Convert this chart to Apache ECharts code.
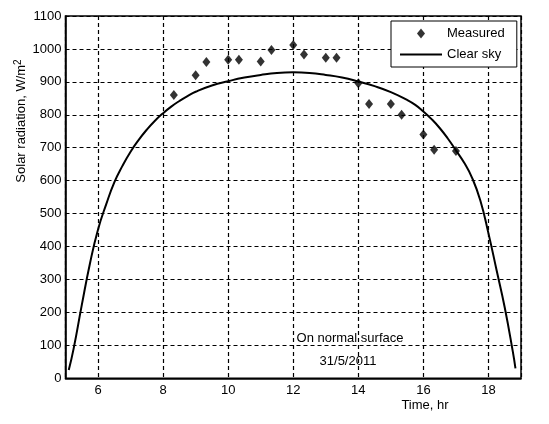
<!DOCTYPE html>
<html>
<head>
<meta charset="utf-8">
<script src="https://cdn.jsdelivr.net/npm/echarts@6/dist/echarts.min.js"></script>
<style>
html,body{margin:0;padding:0;background:#fff;}
#chart{width:549px;height:424px;}
</style>
</head>
<body>
<div id="chart"></div>
<script>
// Measured solar radiation (time in hours, W/m2)
var measuredTime = [8.33, 9.0, 9.33, 10.0, 10.33, 11.0, 11.33, 12.0, 12.33, 13.0, 13.33, 14.0, 14.33, 15.0, 15.33, 16.0, 16.33, 17.0];
var measuredValue = [860, 920, 960, 967, 967, 962, 997, 1012, 983, 973, 973, 896, 833, 833, 800, 740, 694, 690];

// Clear sky model curve
var clearTime = [5.10, 5.25, 5.5, 5.75, 6.0, 6.25, 6.5, 6.75, 7.0, 7.25, 7.5, 7.75, 8.0, 8.25, 8.5, 8.75, 9.0, 9.5, 10.0, 10.5, 11.0, 11.5, 12.0, 12.5, 13.0, 13.5, 14.0, 14.5, 15.0, 15.5, 15.75, 16.0, 16.25, 16.5, 16.75, 17.0, 17.25, 17.5, 17.75, 18.0, 18.25, 18.5, 18.75, 18.83];
var clearValue = [25, 90, 222, 348, 452, 528, 595, 645, 688, 724, 755, 782, 805, 825, 842, 857, 870, 889, 902, 913, 921, 927, 929, 927, 921, 913, 901, 887, 869, 845, 830, 810, 787, 760, 728, 692, 655, 608, 540, 440, 328, 215, 80, 30];

var seriesNames = ['Measured', 'Clear sky'];
var yAxisTitle = 'Solar radiation, W/m';
var xAxisTitle = 'Time, hr';
var noteLines = ['On normal surface', '31/5/2011'];

var FONT = 'Liberation Sans, Arial, Helvetica, sans-serif';

function zip(a, b) { return a.map(function (v, i) { return [v, b[i]]; }); }

var chart = echarts.init(document.getElementById('chart'), null, {renderer: 'canvas'});
chart.setOption({
  backgroundColor: '#fff',
  animation: false,
  textStyle: {fontFamily: FONT, color: '#000'},
  grid: {
    left: 65.5, right: 28, top: 16, bottom: 45.7,
    show: true, borderColor: '#000', borderWidth: 1.5, backgroundColor: 'transparent'
  },
  xAxis: {
    type: 'value', min: 5, max: 19, splitNumber: 7,
    axisLine: {show: true, onZero: false, lineStyle: {color: '#000', width: 1.5}},
    axisTick: {show: false},
    axisLabel: {color: '#000', fontSize: 13, fontFamily: FONT, margin: 6, showMinLabel: false, showMaxLabel: false,
      formatter: function (v) { return String(v); }},
    splitLine: {show: true, lineStyle: {color: '#000', width: 1.2, type: [4, 3]}}
  },
  yAxis: {
    type: 'value', min: 0, max: 1100, interval: 100,
    axisLine: {show: true, lineStyle: {color: '#000', width: 1.5}},
    axisTick: {show: false},
    axisLabel: {color: '#000', fontSize: 13, fontFamily: FONT, margin: 4,
      formatter: function (v) { return String(v); }},
    splitLine: {show: true, lineStyle: {color: '#000', width: 1.2, type: [4, 3]}}
  },
  legend: {
    orient: 'vertical',
    left: 391, top: 21,
    backgroundColor: '#fff',
    borderColor: '#000', borderWidth: 1,
    padding: [6, 12, 6, 9],
    itemWidth: 42, itemHeight: 10, itemGap: 8,
    textStyle: {color: '#000', fontSize: 13, fontFamily: FONT},
    data: [
      {name: seriesNames[0], icon: 'path://M0,-5L4,0L0,5L-4,0Z'},
      {name: seriesNames[1], icon: 'path://M0,0H42V2H0Z'}
    ],
    z: 10
  },
  series: [
    {
      name: seriesNames[0], type: 'scatter',
      data: zip(measuredTime, measuredValue),
      symbol: 'diamond', symbolSize: [8, 10],
      itemStyle: {color: '#000'}, z: 5
    },
    {
      name: seriesNames[1], type: 'line',
      data: zip(clearTime, clearValue),
      smooth: 0.5, symbol: 'none',
      lineStyle: {color: '#000', width: 2},
      itemStyle: {color: '#000'}, z: 4
    }
  ],
  graphic: [
    {
      type: 'text', x: 21, y: 121, rotation: Math.PI / 2,
      style: {
        text: '{a|' + yAxisTitle + '}{s|2}',
        align: 'center', verticalAlign: 'middle',
        rich: {
          a: {fontSize: 13, fontFamily: FONT, fill: '#000', lineHeight: 16},
          s: {fontSize: 10, fontFamily: FONT, fill: '#000', verticalAlign: 'top', lineHeight: 16}
        }
      }
    },
    {
      type: 'text', x: 425, y: 405,
      style: {text: xAxisTitle, fontSize: 13, fontFamily: FONT, fill: '#000', align: 'center', verticalAlign: 'middle'}
    },
    {
      type: 'text', x: 350, y: 338,
      style: {text: noteLines[0], fontSize: 13, fontFamily: FONT, fill: '#000', align: 'center', verticalAlign: 'middle'}
    },
    {
      type: 'text', x: 348, y: 361,
      style: {text: noteLines[1], fontSize: 13, fontFamily: FONT, fill: '#000', align: 'center', verticalAlign: 'middle'}
    }
  ]
});
</script>
</body>
</html>
